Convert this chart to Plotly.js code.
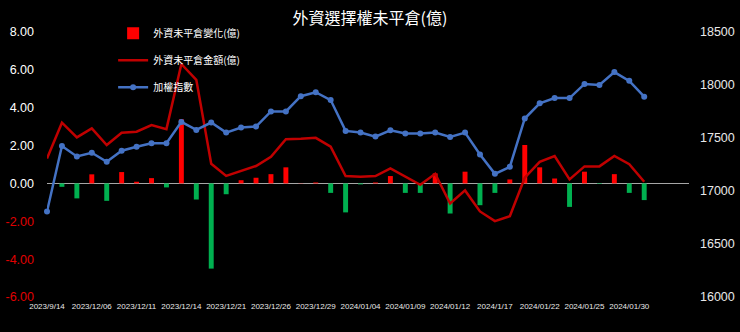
<!DOCTYPE html>
<html>
<head>
<meta charset="utf-8">
<script src="https://cdn.plot.ly/plotly-3.0.1.min.js"></script>
<style>
html,body{margin:0;padding:0;background:#000;}
#chart{width:740px;height:332px;}
</style>
</head>
<body>
<div id="chart"></div>
<script>
// Category tick labels (every 3rd category is labelled)
const tickLabels = ["2023/9/14","2023/12/06","2023/12/11","2023/12/14","2023/12/21","2023/12/26","2023/12/29","2024/01/04","2024/01/09","2024/01/12","2024/1/17","2024/01/22","2024/01/25","2024/01/30"];
const labelStep = 3;

// 外資未平倉變化(億)
const oiChange = [0, -0.18, -0.79, 0.48, -0.92, 0.60, 0.09, 0.28, -0.21, 3.39,
  -0.85, -4.50, -0.57, 0.17, 0.30, 0.49, 0.85, 0.01, 0.05, -0.50,
  -1.53, -0.05, 0.05, 0.39, -0.50, -0.50, 0.53, -1.59, 0.62, -1.15,
  -0.50, 0.21, 2.03, 0.85, 0.26, -1.24, 0.62, -0.03, 0.49, -0.50, -0.88];

// 外資未平倉金額(億)
const oiAmount = [1.32, 3.21, 2.43, 2.91, 2.03, 2.68, 2.73, 3.08, 2.87, 6.31,
  5.47, 1.04, 0.40, 0.65, 0.92, 1.41, 2.34, 2.36, 2.41, 1.94,
  0.39, 0.35, 0.39, 0.79, 0.35, -0.07, 0.51, -1.06, -0.37, -1.48,
  -1.99, -1.73, 0.30, 1.14, 1.45, 0.21, 0.90, 0.90, 1.45, 1.02, 0.09];

// 加權指數
const taiex = [16806, 17424, 17326, 17361, 17276, 17380, 17418, 17450, 17450, 17652,
  17576, 17646, 17551, 17599, 17608, 17751, 17751, 17894, 17932, 17858,
  17567, 17551, 17513, 17573, 17542, 17542, 17551, 17510, 17551, 17345,
  17162, 17228, 17684, 17827, 17877, 17877, 18010, 18001, 18122, 18039, 17890];

const leftTicks = [8, 6, 4, 2, 0, -2, -4, -6];

const idx = oiChange.map((_, i) => i);
const tickVals = tickLabels.map((_, k) => k * labelStep);
const posChange = oiChange.map(v => v >= 0 ? v : null);
const negChange = oiChange.map(v => v < 0 ? v : null);

const traces = [
  {type:'bar', x: idx, y: posChange, name:'外資未平倉變化(億)', legendgroup:'a',
   marker:{color:'#FF0000'}, width:0.33, hoverinfo:'skip'},
  {type:'bar', x: idx, y: negChange, name:'外資未平倉變化(億)', legendgroup:'a', showlegend:false,
   marker:{color:'#00B050'}, width:0.33, hoverinfo:'skip'},
  {type:'scatter', mode:'lines', x: idx, y: oiAmount, name:'外資未平倉金額(億)', legendgroup:'b',
   line:{color:'#C00000', width:2.5}, cliponaxis:false, hoverinfo:'skip'},
  {type:'scatter', mode:'lines+markers', x: idx, y: taiex, name:'加權指數', legendgroup:'c', yaxis:'y2',
   line:{color:'#4472C4', width:2.5}, marker:{color:'#4472C4', size:6}, cliponaxis:false, hoverinfo:'skip'}
];

const layout = {
  width:740, height:332,
  paper_bgcolor:'#000', plot_bgcolor:'#000',
  margin:{l:47, r:51, t:32, b:35},
  font:{family:'Liberation Sans, Arial, sans-serif', color:'#FFFFFF'},
  title:{text:'外資選擇權未平倉(億)', x:0.5, xanchor:'center', y:0.945, yanchor:'middle',
    font:{family:'Noto Sans CJK TC, sans-serif', size:16, color:'#FFFFFF'}},
  barmode:'relative',
  showlegend:true,
  legend:{x:0.103, xanchor:'left', y:1.05, yanchor:'top', bgcolor:'rgba(0,0,0,0)',
    font:{family:'Noto Sans CJK TC, sans-serif', size:10, color:'#FFFFFF'},
    traceorder:'grouped', tracegroupgap:8, itemwidth:30},
  xaxis:{range:[0, 43], showgrid:false, zeroline:false, showline:false, ticks:'',
    tickmode:'array', tickvals:tickVals, ticktext:tickLabels, tickangle:0,
    tickfont:{size:8, color:'#E8E8E8'}, ticklabelstandoff:3, fixedrange:true},
  yaxis:{range:[-6, 8], showgrid:false, zeroline:true, zerolinecolor:'#A6A6A6', zerolinewidth:1.5,
    showline:false, ticks:'', tickmode:'array', tickvals:leftTicks,
    ticktext:leftTicks.map(v => v < 0 ? '<span style="color:#E00000">' + v.toFixed(2) + '</span>' : v.toFixed(2)),
    tickfont:{size:12.5, color:'#FFFFFF'}, ticklabelstandoff:12, fixedrange:true},
  yaxis2:{range:[16000, 18500], overlaying:'y', side:'right', showgrid:false, zeroline:false,
    showline:false, ticks:'', dtick:500, tick0:16000, tickformat:'d',
    tickfont:{size:12.5, color:'#E8E8E8'}, ticklabelstandoff:10, fixedrange:true}
};

Plotly.newPlot('chart', traces, layout, {displayModeBar:false, staticPlot:true});
</script>
</body>
</html>
